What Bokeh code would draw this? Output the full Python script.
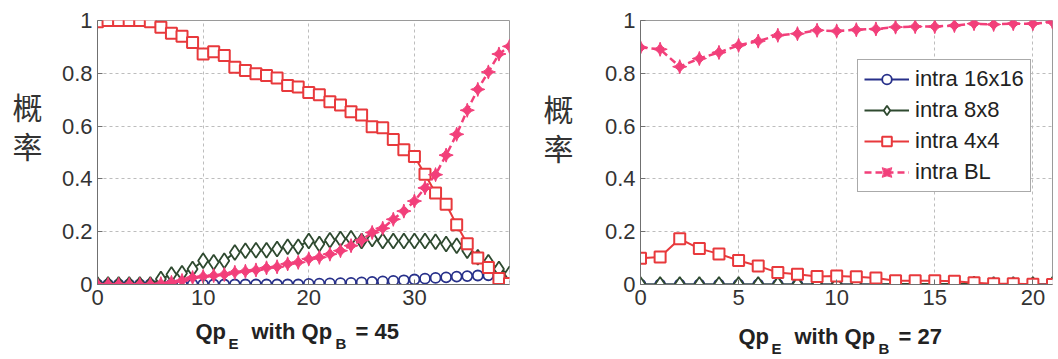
import numpy as np
from bokeh.plotting import figure
from bokeh.models import (Range1d, FixedTicker, NumeralTickFormatter,
                          Legend, LegendItem)
from bokeh.core.properties import value
from bokeh.layouts import row, column
from bokeh.embed import file_html
from bokeh.resources import INLINE

# ---- data: mode probabilities versus enhancement-layer QP ----
qp_left = list(range(40))
left_16 = [0.0] * 20 + [0.002, 0.003, 0.004, 0.005, 0.006, 0.008, 0.010, 0.012,
                        0.014, 0.016, 0.019, 0.022, 0.025, 0.027, 0.030, 0.032,
                        0.034, 0.035, 0.034, 0.030]
left_8 = [0.0, 0.0, 0.0, 0.0, 0.0, 0.0, 0.021, 0.038, 0.043, 0.059, 0.090, 0.084,
          0.090, 0.121, 0.128, 0.130, 0.130, 0.134, 0.143, 0.143, 0.165, 0.153,
          0.168, 0.172, 0.175, 0.165, 0.172, 0.165, 0.165, 0.165, 0.165, 0.165,
          0.162, 0.153, 0.147, 0.128, 0.103, 0.084, 0.059, 0.040]
left_4 = [0.995, 1.0, 1.0, 1.0, 1.0, 0.995, 0.974, 0.952, 0.940, 0.917, 0.873,
          0.882, 0.867, 0.823, 0.811, 0.798, 0.792, 0.782, 0.754, 0.748, 0.727,
          0.719, 0.692, 0.680, 0.654, 0.642, 0.598, 0.594, 0.549, 0.510, 0.485,
          0.418, 0.347, 0.304, 0.226, 0.154, 0.100, 0.064, 0.023, 0.004]
left_bl = [0.0, 0.0, 0.0, 0.0, 0.0, 0.0, 0.003, 0.008, 0.015, 0.026, 0.030, 0.034,
           0.038, 0.046, 0.050, 0.055, 0.063, 0.067, 0.078, 0.084, 0.097, 0.103,
           0.115, 0.128, 0.147, 0.168, 0.197, 0.213, 0.247, 0.278, 0.316, 0.366,
           0.416, 0.490, 0.569, 0.660, 0.739, 0.805, 0.873, 0.902]

qp_right = list(range(22))
right_16 = [0.0] * 22
right_8 = [0.0] * 13 + [0.002, 0.002, 0.002, 0.002, 0.002, 0.0, 0.0, 0.0, 0.0]
right_4 = [0.099, 0.104, 0.173, 0.136, 0.116, 0.091, 0.070, 0.045, 0.039, 0.030,
           0.032, 0.029, 0.025, 0.014, 0.014, 0.014, 0.012, 0.007, 0.003, 0.003,
           0.001, 0.0]
right_bl = [0.898, 0.891, 0.825, 0.856, 0.879, 0.906, 0.922, 0.944, 0.950, 0.963,
            0.960, 0.965, 0.968, 0.975, 0.977, 0.977, 0.981, 0.988, 0.985, 0.988,
            0.988, 0.994]

y_ticks = [0, 0.2, 0.4, 0.6, 0.8, 1]
left_xticks = [0, 10, 20, 30]
right_xticks = [0, 5, 10, 15, 20]
series_names = ["intra 16x16", "intra 8x8", "intra 4x4", "intra BL"]
y_title_chars = ["概", "率"]
qp_base = [45, 27]

C16, C8, C4, CBL = "#27308a", "#2f4a30", "#e8393c", "#f23f7a"
FONT = "Liberation Sans"
TOP_H = 318          # height of the plotting row
CAP_H = 359 - TOP_H  # height of the caption strip


def blank(width, height):
    """Axis-less canvas whose data units are pixels (y grows downward)."""
    f = figure(width=width, height=height, output_backend="svg", title=None,
               toolbar_location=None, x_axis_location=None, y_axis_location=None,
               x_range=Range1d(0, width), y_range=Range1d(height, 0),
               min_border=0)
    f.grid.visible = False
    f.outline_line_color = None
    f.background_fill_color = "white"
    f.border_fill_color = "white"
    return f


def ytitle(width, cx, ys):
    f = blank(width, TOP_H)
    f.text(x=[cx] * len(ys), y=ys, text=y_title_chars, text_align="center",
           text_baseline="middle", text_font=value("Noto Sans CJK SC"),
           text_font_size="30px", text_color="#333333")
    return f


def panel(width, borders, xmax, xticks, qp, s16, s8, s4, sbl):
    left, right, top, bottom = borders
    p = figure(width=width, height=TOP_H, output_backend="svg", title=None,
               toolbar_location=None,
               x_range=Range1d(0, xmax), y_range=Range1d(0, 1),
               min_border_left=left, min_border_right=right,
               min_border_top=top, min_border_bottom=bottom)
    p.background_fill_color = "white"
    p.border_fill_color = "white"
    p.outline_line_color = "#9a9a9a"

    p.xaxis.ticker = FixedTicker(ticks=xticks)
    p.yaxis.ticker = FixedTicker(ticks=y_ticks)
    p.yaxis.formatter = NumeralTickFormatter(format="0.[0]")
    for ax in (p.xaxis, p.yaxis):
        ax.major_tick_in = 5
        ax.major_tick_out = 0
        ax.minor_tick_line_color = None
        ax.axis_line_color = "#707070"
        ax.major_tick_line_color = "#707070"
        ax.major_label_text_font = FONT
        ax.major_label_text_font_size = "22px"
        ax.major_label_text_color = "#333333"
    p.xaxis.major_label_standoff = 5
    p.yaxis.major_label_standoff = 5
    for g in (p.xgrid, p.ygrid):
        g.grid_line_color = "#bdbdbd"
        g.grid_line_dash = "3 3"
        g.grid_line_width = 1

    r16l = p.line(qp, s16, line_color=C16, line_width=2)
    r16m = p.scatter(qp, s16, marker="circle", size=10, line_color=C16,
                     fill_color="white", line_width=1.8)
    r8l = p.line(qp, s8, line_color=C8, line_width=2)
    r8m = p.scatter(qp, s8, marker="diamond", size=15, line_color=C8,
                    fill_color="white", line_width=1.8)
    r4l = p.line(qp, s4, line_color=C4, line_width=2)
    r4m = p.scatter(qp, s4, marker="square", size=11, line_color=C4,
                    fill_color="white", line_width=2)
    rbl = p.line(qp, sbl, line_color=CBL, line_width=2.5, line_dash="7 4")
    rblm = p.scatter(qp, sbl, marker="square_pin", angle=np.pi / 4, size=10,
                     line_color=CBL, fill_color=CBL, line_width=1)
    return p, [(r16l, r16m), (r8l, r8m), (r4l, r4m), (rbl, rblm)]


# left panel: y-title strip 0..50, plot 50..530
t1 = ytitle(50, 27, [103, 150])
p1, _ = panel(480, (47, 21, 18, TOP_H - 284), 39, left_xticks, qp_left,
              left_16, left_8, left_4, left_bl)
# right panel: y-title strip 530..590, plot 590..1058
t2 = ytitle(60, 28, [105, 152])
p2, rends = panel(468, (50, 6, 20, TOP_H - 287), 21, right_xticks, qp_right,
                  right_16, right_8, right_4, right_bl)

legend = Legend(items=[LegendItem(label=n, renderers=list(r))
                       for n, r in zip(series_names, rends)],
                location=(217, 92))
legend.label_text_font = FONT
legend.label_text_font_size = "22px"
legend.label_text_color = "#222222"
legend.glyph_width = 45
legend.glyph_height = 24
legend.label_height = 24
legend.spacing = 5
legend.padding = 6
legend.margin = 0
legend.label_standoff = 6
legend.border_line_color = "#555555"
legend.background_fill_color = "white"
legend.background_fill_alpha = 1
p2.add_layout(legend)

# caption strip with the two x-axis titles (Qp_E with Qp_B = n)
cap = blank(1058, CAP_H)
main_x, main_y, main_t = [], [], []
sub_x, sub_y, sub_t = [], [], []
for (x0, base), qb in zip([(195, 13), (738, 18)], qp_base):
    main_x += [x0, x0 + 56, x0 + 160]
    main_y += [base, base, base]
    main_t += ["Qp", "with Qp", "= %d" % qb]
    sub_x += [x0 + 33, x0 + 140]
    sub_y += [base + 12, base + 12]
    sub_t += ["E", "B"]
cap.text(x=main_x, y=main_y, text=main_t, text_align="left",
         text_baseline="alphabetic", text_font=value(FONT),
         text_font_style="bold", text_font_size="22px", text_color="#222222")
cap.text(x=sub_x, y=sub_y, text=sub_t, text_align="left",
         text_baseline="alphabetic", text_font=value(FONT),
         text_font_style="bold", text_font_size="15px", text_color="#222222")

layout = column(row(t1, p1, t2, p2), cap)
open("out.html", "w").write(file_html(layout, INLINE))
